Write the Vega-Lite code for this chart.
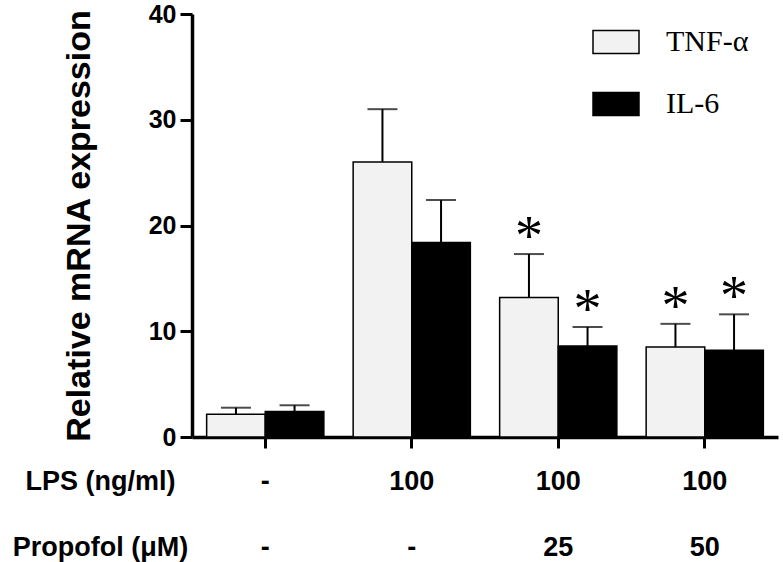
{
  "$schema": "https://vega.github.io/schema/vega-lite/v6.json",
  "width": 586,
  "height": 423,
  "autosize": {"type": "none"},
  "padding": {"left": 192, "top": 14, "right": 5, "bottom": 125},
  "background": "white",
  "config": {
    "view": {"stroke": null},
    "font": "Liberation Sans",
    "axis": {"grid": false, "domainColor": "black", "tickColor": "black", "labelColor": "black", "titleColor": "black"}
  },
  "data": {
    "values": [
      {"group": "-|-", "series": "TNF-α", "mean": 2.15, "hi": 2.77, "sig": ""},
      {"group": "-|-", "series": "IL-6", "mean": 2.4, "hi": 3.0, "sig": ""},
      {"group": "100|-", "series": "TNF-α", "mean": 26.0, "hi": 31.0, "sig": ""},
      {"group": "100|-", "series": "IL-6", "mean": 18.4, "hi": 22.4, "sig": ""},
      {"group": "100|25", "series": "TNF-α", "mean": 13.2, "hi": 17.3, "sig": "*"},
      {"group": "100|25", "series": "IL-6", "mean": 8.6, "hi": 10.4, "sig": "*"},
      {"group": "100|50", "series": "TNF-α", "mean": 8.5, "hi": 10.7, "sig": "*"},
      {"group": "100|50", "series": "IL-6", "mean": 8.2, "hi": 11.6, "sig": "*"}
    ]
  },
  "encoding": {
    "x": {
      "field": "group",
      "type": "nominal",
      "sort": ["-|-", "100|-", "100|25", "100|50"],
      "scale": {"paddingInner": 0.2, "paddingOuter": 0.1},
      "axis": {
        "labelAngle": 0,
        "labelExpr": "split(datum.value, '|')",
        "labelFontSize": 27,
        "labelFontWeight": "bold",
        "labelLineHeight": 66,
        "labelPadding": 20,
        "labelBaseline": "top",
        "tickSize": 11,
        "tickWidth": 3,
        "domainWidth": 3.5,
        "title": ["LPS (ng/ml)", "Propofol (μM)"],
        "titleFontSize": 27,
        "titleFontWeight": "bold",
        "titleLineHeight": 66,
        "titleAlign": "center",
        "titleBaseline": "alphabetic",
        "titleAnchor": "start",
        "titleX": -92,
        "titleY": 52
      }
    },
    "xOffset": {"field": "series", "type": "nominal", "sort": ["TNF-α", "IL-6"], "scale": {"paddingInner": 0, "paddingOuter": 0}}
  },
  "layer": [
    {
      "mark": {"type": "bar", "stroke": "black", "strokeWidth": 1.5},
      "encoding": {
        "y": {
          "field": "mean",
          "type": "quantitative",
          "scale": {"domain": [0, 40], "nice": false},
          "axis": {
            "values": [0, 10, 20, 30, 40],
            "labelFontSize": 25,
            "labelFontWeight": "bold",
            "labelPadding": 4,
            "tickSize": 12,
            "tickWidth": 3,
            "domainWidth": 3.5,
            "title": "Relative mRNA expression",
            "titleFontSize": 34,
            "titleFontWeight": "bold",
            "titlePadding": 52
          }
        },
        "fill": {
          "field": "series",
          "type": "nominal",
          "sort": ["TNF-α", "IL-6"],
          "scale": {"domain": ["TNF-α", "IL-6"], "range": ["#f2f2f2", "black"]},
          "legend": {
            "title": null,
            "orient": "none",
            "legendX": 400,
            "legendY": 4,
            "padding": 0,
            "symbolType": "M-1,-0.5H1V0.5H-1Z",
            "symbolSize": 2116,
            "symbolStrokeColor": "black",
            "symbolStrokeWidth": 1.5,
            "symbolOpacity": 1,
            "labelFont": "Liberation Serif",
            "labelFontSize": 30,
            "labelColor": "black",
            "labelOffset": 26,
            "rowPadding": 23
          }
        }
      }
    },
    {
      "mark": {"type": "rule", "color": "black", "strokeWidth": 2},
      "encoding": {
        "y": {"field": "mean", "type": "quantitative"},
        "y2": {"field": "hi"}
      }
    },
    {
      "mark": {"type": "tick", "color": "black", "thickness": 2, "size": 30, "orient": "horizontal"},
      "encoding": {
        "y": {"field": "hi", "type": "quantitative"}
      }
    },
    {
      "transform": [{"filter": "datum.sig != ''"}],
      "mark": {"type": "text", "font": "Liberation Serif", "fontSize": 56, "color": "black", "baseline": "middle", "dy": -16},
      "encoding": {
        "y": {"field": "hi", "type": "quantitative"},
        "text": {"field": "sig"}
      }
    }
  ]
}
